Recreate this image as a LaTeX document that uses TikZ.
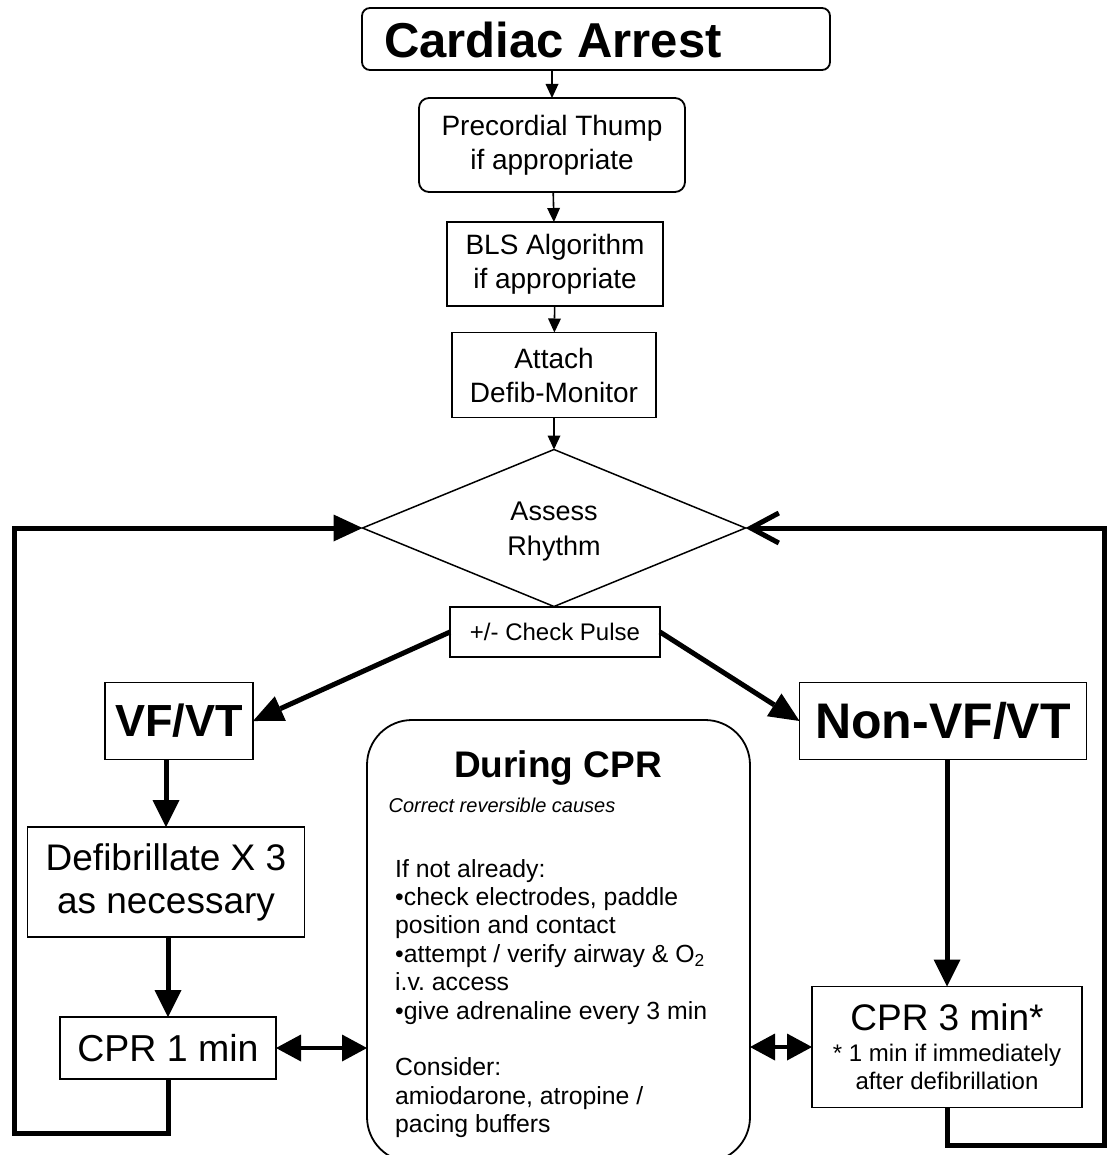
\documentclass[tikz,border=0pt]{standalone}
\usepackage{fontspec}
\setmainfont{Liberation Sans}
\usetikzlibrary{shapes.geometric,arrows.meta,calc}

\tikzset{
  flowbox/.style={draw, line width=1.8pt, inner sep=0pt, outer sep=0pt, align=center},
  smallarrow/.style={-{Triangle[length=14pt,width=13pt,line width=0pt]}, line width=1.6pt},
  bigarrow/.style={-{Triangle[length=27pt,width=27pt,line width=0pt]}, line width=5pt},
  bothways/.style={{Triangle[length=25pt,width=27pt,line width=0pt]}-{Triangle[length=25pt,width=27pt,line width=0pt]}, line width=4pt},
  loopline/.style={line width=5pt, line join=miter}
}

\begin{document}
\begin{tikzpicture}[x=1pt, y=-1pt]
    \useasboundingbox (0,0) rectangle (1109,1155);
    % Top chain
    \node[flowbox, rounded corners=8pt, minimum width=468pt, minimum height=62pt] (arrest) at (596,39) {};
    \node[font=\bfseries\fontsize{49}{52}\selectfont, inner sep=0pt] (arresttext) at (553,40) {Cardiac Arrest};
    \node[flowbox, rounded corners=10pt, minimum width=266pt, minimum height=94pt,
          font=\fontsize{28}{34}\selectfont] (thump) at (552,145) {Precordial Thump\\if appropriate};
    \node[flowbox, minimum width=216pt, minimum height=84pt,
          font=\fontsize{28}{34}\selectfont] (bls) at (555,264) {BLS Algorithm\\if appropriate};
    \node[flowbox, minimum width=204pt, minimum height=85pt,
          font=\fontsize{28}{34}\selectfont] (attach) at (554,375) {Attach\\Defib-Monitor};
    \node[draw, diamond, line width=1.5pt, inner sep=0pt, outer sep=0pt, aspect=2.44,
          minimum width=383pt, minimum height=157pt] (assess) at (554,528) {};
    \node[align=center, font=\fontsize{27}{35}\selectfont] (assesstext) at (554,532) {Assess\\Rhythm};
    \node[flowbox, fill=white, minimum width=210pt, minimum height=50pt,
          font=\fontsize{24}{28}\selectfont] (pulse) at (555,632) {+/- Check Pulse};
    \draw[smallarrow] (thump.north |- arrest.south) -- (thump.north);
    \draw[smallarrow] (thump) -- (bls);
    \draw[smallarrow] (bls) -- (attach);
    \draw[smallarrow] (attach) -- (assess.north);

    % Left branch
    \node[flowbox, minimum width=148pt, minimum height=77pt,
          font=\bfseries\fontsize{45}{50}\selectfont] (vf) at (179,721) {VF/VT};
    \node[flowbox, minimum width=277pt, minimum height=110pt,
          font=\fontsize{37}{43}\selectfont] (defib) at (166,882) {Defibrillate X 3\\as necessary};
    \node[flowbox, minimum width=216pt, minimum height=62pt,
          font=\fontsize{37.5}{40}\selectfont] (cpr1) at (168,1048) {CPR 1 min};

    % Right branch
    \node[flowbox, minimum width=287pt, minimum height=77pt,
          font=\bfseries\fontsize{50}{54}\selectfont] (nonvf) at (943,721) {Non-VF/VT};
    \node[flowbox, minimum width=270pt, minimum height=121pt,
          font=\fontsize{24}{28}\selectfont] (cpr3) at (947,1047)
          {{\fontsize{37}{40}\selectfont CPR 3 min*}\\[3pt]
           * 1 min if immediately\\after defibrillation};

    % During CPR box
    \node[draw, line width=1.8pt, rounded corners=45pt, inner sep=0pt, outer sep=0pt,
          minimum width=383pt, minimum height=442pt] (during) at (558.5,941) {};
    \node[font=\bfseries\fontsize{37}{40}\selectfont] (duringtitle) at (558,768) {During CPR};
    \node[font=\itshape\fontsize{20}{24}\selectfont] (duringsub) at (502,805) {Correct reversible causes};
    \node[anchor=north west, align=left, inner sep=0pt,
          font=\fontsize{24.8}{28.4}\selectfont] (duringtext) at (395,859)
          {If not already:\\
           •check electrodes, paddle\\
           position and contact\\
           •attempt / verify airway \& O\textsubscript{2}\\
           i.v.\ access\\
           •give adrenaline every 3 min\\[28.4pt]
           Consider:\\
           amiodarone, atropine /\\
           pacing buffers};

    % Branch arrows
    \draw[-{Triangle[length=30pt,width=27pt,line width=0pt]}, line width=5pt] (pulse.west) -- (vf.east);
    \draw[-{Triangle[length=30pt,width=27pt,line width=0pt]}, line width=5pt] (pulse.east) -- (nonvf.west);
    \draw[bigarrow] (vf.south -| defib.north) -- (defib.north);
    \draw[bigarrow] (defib.south -| cpr1.north) -- (cpr1.north);
    \draw[bigarrow] (nonvf.south -| cpr3.north) -- (cpr3.north);
    \draw[bothways] (cpr1.east) -- (cpr1.east -| during.west);
    \draw[bothways] (cpr3.west -| during.east) -- (cpr3.west);

    % Loops back to rhythm check
    \coordinate (loopL) at (14,1133);
    \coordinate (loopR) at (1104,1145);
    \draw[loopline, -{Triangle[length=29pt,width=27pt,line width=0pt]}] (cpr1.south) |- (loopL) |- (assess.west);
    \draw[loopline, -{Straight Barb[length=28pt,width=30pt]}] (cpr3.south) |- (loopR) |- (assess.east);
\end{tikzpicture}
\end{document}
